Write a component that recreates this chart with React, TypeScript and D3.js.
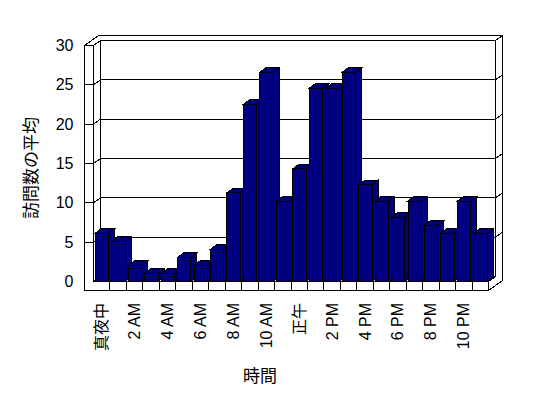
import React from "react";
import * as d3 from "d3";

const hours: string[] = [
  "真夜中", "1 AM", "2 AM", "3 AM", "4 AM", "5 AM", "6 AM", "7 AM", "8 AM", "9 AM", "10 AM", "11 AM",
  "正午", "1 PM", "2 PM", "3 PM", "4 PM", "5 PM", "6 PM", "7 PM", "8 PM", "9 PM", "10 PM", "11 PM",
];
const visits: number[] = [6, 5, 2, 1, 1, 3, 2, 4, 11, 22, 26, 10, 14, 24, 24, 26, 12, 10, 8, 10, 7, 6, 10, 6];
const xTickLabels: string[] = ["真夜中", "2 AM", "4 AM", "6 AM", "8 AM", "10 AM", "正午", "2 PM", "4 PM", "6 PM", "8 PM", "10 PM"];
const yTicks: number[] = [0, 5, 10, 15, 20, 25, 30];
const yTitle = "訪問数の平均";
const xTitle = "時間";

const W = 548;
const H = 398;
const FONT = "'Liberation Sans', 'Noto Sans CJK JP', sans-serif";

export default function App() {
  const wallL = 84.5;
  const x0 = 93.5;
  const x1 = 488.5;
  const Dx = 7;
  const Dy = -5;
  const floorTh = 9;

  const x = d3.scaleBand<string>().domain(hours).range([x0, x1]).padding(0);
  const yBack = d3.scaleLinear().domain([0, 30]).range([276.5, 40.5]);
  const yFront = (v: number) => yBack(v) - Dy;
  const yBar = d3.scaleLinear().domain([0, 30]).range([281.5, 40]);

  const floorTop = yFront(0);
  const floorBot = floorTop + floorTh;
  const topFront = yFront(30);
  const backTop = yBack(30);
  const backBot = yBack(0);
  const bx0 = x0 + Dx;
  const bx1 = x1 + Dx;
  const outerTop = backTop + Dy;
  const outerR = x1 + 2 * Dx;

  const pts = (a: [number, number][]) => a.map((p) => p.join(",")).join(" ");
  const stroke = { stroke: "#000", strokeWidth: 1, fill: "#fff" };

  const bw = x.bandwidth();
  const barOff = 1.8;
  const barW = 13.4;
  const bdx = 6;
  const bdy = -4.5;

  return (
    <svg width={W} height={H} style={{ position: "absolute", left: 0, top: 0, background: "#fff" }}>
      <rect x={0} y={0} width={W} height={H} fill="#fff" />
      <g shapeRendering="crispEdges">
        <rect x={bx0} y={backTop} width={bx1 - bx0} height={backBot - backTop} {...stroke} />
        <polygon
          points={pts([
            [wallL, topFront],
            [wallL + 2 * Dx, topFront + 2 * Dy],
            [outerR, outerTop],
            [bx1, backTop],
            [bx0, backTop],
            [x0, topFront],
          ])}
          {...stroke}
        />
        <polygon
          points={pts([
            [bx1, backTop],
            [outerR, outerTop],
            [outerR, floorBot + 2 * Dy],
            [x1, floorBot],
            [x1, floorTop],
            [bx1, backBot],
          ])}
          {...stroke}
        />
        <polygon
          points={pts([
            [x0, floorTop],
            [x1, floorTop],
            [bx1, backBot],
            [bx0, backBot],
          ])}
          {...stroke}
        />
        <polygon
          points={pts([
            [x0, topFront],
            [bx0, backTop],
            [bx0, backBot],
            [x0, floorTop],
          ])}
          {...stroke}
        />
        <polygon
          points={pts([
            [wallL, topFront],
            [x0, topFront],
            [x0, floorTop],
            [x1, floorTop],
            [x1, floorBot],
            [wallL, floorBot],
          ])}
          {...stroke}
        />
        {hours.slice(1).map((h) => (
          <line key={h} x1={x(h)!} x2={x(h)!} y1={floorTop} y2={floorBot} stroke="#000" />
        ))}
        {yTicks
          .filter((v) => v > 0 && v < 30)
          .map((v) => (
            <g key={v}>
              <line x1={wallL} x2={x0} y1={yFront(v)} y2={yFront(v)} stroke="#000" />
              <line x1={x0} x2={bx0} y1={yFront(v)} y2={yBack(v)} stroke="#000" />
              <line x1={bx0} x2={bx1} y1={yBack(v)} y2={yBack(v)} stroke="#000" />
              <line x1={bx1} x2={outerR} y1={yBack(v)} y2={yBack(v) + Dy} stroke="#000" />
            </g>
          ))}
        {hours.map((h, i) => {
          const v = visits[i];
          const bx = x(h)! + barOff;
          const top = yBar(v);
          const bot = yBar(0);
          return (
            <g key={h} stroke="#000" strokeWidth={1} fill="#000080">
              <polygon
                points={pts([
                  [bx + barW, bot],
                  [bx + barW, top],
                  [bx + barW + bdx, top + bdy],
                  [bx + barW + bdx, bot + bdy],
                ])}
              />
              <polygon
                points={pts([
                  [bx, top],
                  [bx + barW, top],
                  [bx + barW + bdx, top + bdy],
                  [bx + bdx, top + bdy],
                ])}
              />
              <rect x={bx} y={top} width={barW} height={bot - top} />
            </g>
          );
        })}
      </g>
      {yTicks.map((v) => (
        <text
          key={v}
          x={73.5}
          y={yFront(v)}
          textAnchor="end"
          dominantBaseline="central"
          fontFamily={FONT}
          fontSize={16}
          fill="#000"
        >
          {v}
        </text>
      ))}
      {xTickLabels.map((lab) => {
        const cx = x(lab)! + bw / 2;
        return (
          <text
            key={lab}
            transform={`translate(${cx},${303}) rotate(-90)`}
            textAnchor="end"
            dominantBaseline="central"
            fontFamily={FONT}
            fontSize={16}
            fill="#000"
          >
            {lab}
          </text>
        );
      })}
      <text
        transform={`translate(31,168) rotate(-90)`}
        textAnchor="middle"
        dominantBaseline="central"
        fontFamily={FONT}
        fontSize={17}
        fill="#000"
      >
        {yTitle}
      </text>
      <text x={260} y={376} textAnchor="middle" dominantBaseline="central" fontFamily={FONT} fontSize={17} fill="#000">
        {xTitle}
      </text>
    </svg>
  );
}
